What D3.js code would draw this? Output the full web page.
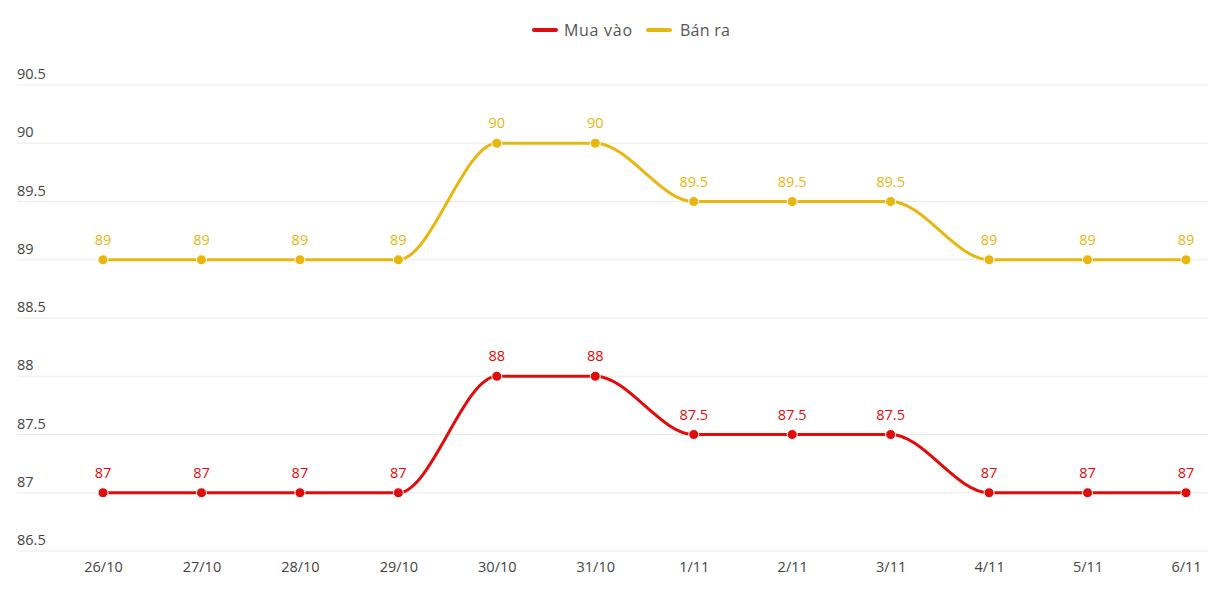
<!DOCTYPE html>
<html><head><meta charset="utf-8">
<script src="https://cdn.jsdelivr.net/npm/d3@7/dist/d3.min.js"></script>
<style>
html,body{margin:0;padding:0;background:#fff;}
svg{display:block;font-family:"Open Sans","Noto Sans",sans-serif;}
</style></head><body>
<svg id="c" width="1216" height="602"></svg>
<script>
const categories = ["26/10","27/10","28/10","29/10","30/10","31/10","1/11","2/11","3/11","4/11","5/11","6/11"];
const muaVao = [87,87,87,87,88,88,87.5,87.5,87.5,87,87,87];
const banRa  = [89,89,89,89,90,90,89.5,89.5,89.5,89,89,89];
const yTicks = [86.5,87,87.5,88,88.5,89,89.5,90,90.5];
const seriesNames = ["Mua vào","Bán ra"];
const colors = ["#e00b0b","#e8b60e"];

const svg = d3.select("#c");
const x = d3.scalePoint().domain(categories).range([103,1186]);
const y = d3.scaleLinear().domain([86.5,90.5]).range([551,85]);

// grid
const g = svg.append("g");
g.selectAll("line.grid").data(yTicks).enter().append("line")
  .attr("x1",17).attr("x2",1208)
  .attr("y1",d=>y(d)).attr("y2",d=>y(d))
  .attr("stroke","#ebebeb").attr("stroke-width",1);
g.selectAll("text.yl").data(yTicks).enter().append("text")
  .attr("x",17).attr("y",d=>y(d)-6)
  .attr("font-size",14.5).attr("fill","#444")
  .text(d=>d);

// x labels
const xAxis = d3.axisBottom(x).tickSize(0).tickPadding(0);
const ax = svg.append("g").attr("transform","translate(0,572)").call(xAxis);
ax.select(".domain").remove();
ax.selectAll("text").attr("font-size",14.5).attr("fill","#444").attr("font-family","'Open Sans','Noto Sans',sans-serif").attr("dy","0");

const line = d3.line().x((d,i)=>x(categories[i])).y(d=>y(d)).curve(d3.curveMonotoneX);
[muaVao,banRa].forEach((s,k)=>{
  const sg = svg.append("g");
  sg.append("path").datum(s).attr("d",line).attr("fill","none")
    .attr("stroke",colors[k]).attr("stroke-width",3);
  sg.selectAll("circle").data(s).enter().append("circle")
    .attr("cx",(d,i)=>x(categories[i])).attr("cy",d=>y(d)).attr("r",5)
    .attr("fill",colors[k]).attr("stroke","#fff").attr("stroke-width",1);
  sg.selectAll("text").data(s).enter().append("text")
    .attr("x",(d,i)=>x(categories[i])).attr("y",d=>y(d)-15)
    .attr("text-anchor","middle").attr("font-size",14.5).attr("fill",colors[k])
    .text(d=>d);
});

// legend
const lg = svg.append("g").attr("font-family","'Open Sans','Noto Sans',sans-serif");
const legendItems = [{x:534,tx:564,w:68},{x:648,tx:680,w:50}];
legendItems.forEach((it,k)=>{
  lg.append("line").attr("x1",it.x).attr("x2",it.x+22).attr("y1",30).attr("y2",30)
    .attr("stroke",colors[k]).attr("stroke-width",4).attr("stroke-linecap","round");
  lg.append("text").attr("x",it.tx).attr("y",36).attr("font-size",16).attr("fill","#555")
    .attr("textLength",it.w).attr("lengthAdjust","spacing")
    .text(seriesNames[k]);
});
</script>
</body></html>
